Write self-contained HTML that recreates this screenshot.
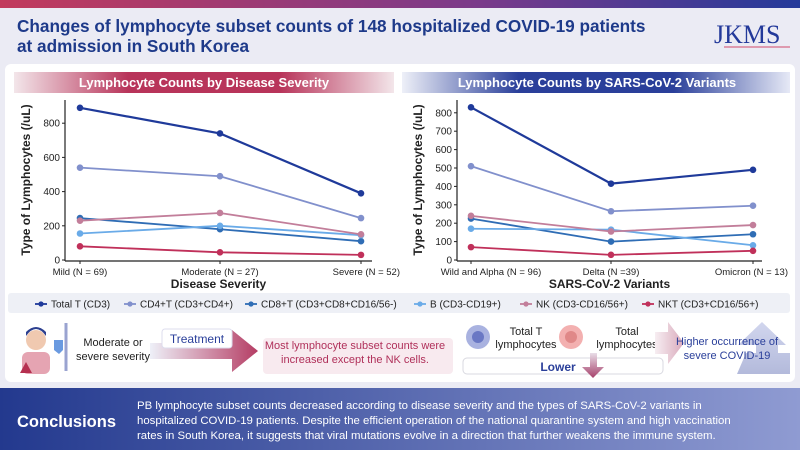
<!DOCTYPE html>
<html><head><meta charset="utf-8"><style>
body{margin:0;width:800px;height:450px;overflow:hidden;font-family:"Liberation Sans",sans-serif;}
svg{display:block}
text{font-family:"Liberation Sans",sans-serif}
</style></head><body>
<svg id="s" width="800" height="450" viewBox="0 0 800 450">
<defs>
<linearGradient id="top" x1="0" x2="1"><stop offset="0" stop-color="#c23a5c"/><stop offset="0.6" stop-color="#7a3a8a"/><stop offset="1" stop-color="#243a9a"/></linearGradient>
<linearGradient id="redbar" x1="0" x2="1"><stop offset="0" stop-color="#f3e6ea"/><stop offset="0.3" stop-color="#b8345a"/><stop offset="0.7" stop-color="#b8345a"/><stop offset="1" stop-color="#f3e6ea"/></linearGradient>
<linearGradient id="bluebar" x1="0" x2="1"><stop offset="0" stop-color="#eef0f8"/><stop offset="0.3" stop-color="#2a3f9a"/><stop offset="0.7" stop-color="#2a3f9a"/><stop offset="1" stop-color="#e6e9f6"/></linearGradient>
<linearGradient id="concl" x1="0" x2="1"><stop offset="0" stop-color="#23398e"/><stop offset="1" stop-color="#8f9bd2"/></linearGradient>
<linearGradient id="arrow1" x1="0" x2="1"><stop offset="0" stop-color="#eef0f8"/><stop offset="1" stop-color="#b53d64"/></linearGradient>
<linearGradient id="arrow2" x1="0" x2="1"><stop offset="0" stop-color="#f7eef2"/><stop offset="1" stop-color="#d9a9bb"/></linearGradient>
<linearGradient id="down" x1="0" x2="0" y1="0" y2="1"><stop offset="0" stop-color="#e8dde8"/><stop offset="1" stop-color="#a6406a"/></linearGradient>
<linearGradient id="pyr" x1="0" x2="0" y1="0" y2="1"><stop offset="0" stop-color="#c2c8e8"/><stop offset="1" stop-color="#9aa3cf"/></linearGradient>
</defs>
<rect width="800" height="450" fill="#ebebf4"/>
<rect width="800" height="8" fill="url(#top)"/>
<text x="17" y="32" font-size="17.2" font-weight="bold" fill="#1e3a8a">Changes of lymphocyte subset counts of 148 hospitalized COVID-19 patients</text>
<text x="17" y="52" font-size="17.2" font-weight="bold" fill="#1e3a8a">at admission in South Korea</text>
<text x="714" y="43" font-size="26" fill="#23399a" style="font-family:'Liberation Serif',serif">JKMS</text>
<line x1="724" y1="47" x2="790" y2="47" stroke="#d04a6a" stroke-width="1"/>

<rect x="5" y="64" width="790" height="318" rx="6" fill="#ffffff"/>
<rect x="14" y="72" width="380" height="21" fill="url(#redbar)"/>
<text x="204" y="87" font-size="13" font-weight="bold" fill="#fff" text-anchor="middle">Lymphocyte Counts by Disease Severity</text>
<rect x="402" y="72" width="388" height="21" fill="url(#bluebar)"/>
<text x="597" y="87" font-size="13" font-weight="bold" fill="#fff" text-anchor="middle">Lymphocyte Counts by SARS-CoV-2 Variants</text>
<g id="charts"></g>

<rect x="8" y="293" width="782" height="20" rx="3" fill="#eef0f6"/>
<g id="legend"></g>

<g>
<circle cx="36" cy="340" r="10" fill="#f0c9b0"/><path d="M26 336 q10 -14 20 0 l0 -4 q-10 -10 -20 0z" fill="#2c3f8f"/>
<rect x="22" y="352" width="28" height="22" rx="6" fill="#e5a4b2"/>
<polygon points="20,373 26,362 32,373" fill="#b53050"/>
<line x1="66" y1="323" x2="66" y2="371" stroke="#9aa3d0" stroke-width="3"/>
<path d="M54 340 h9 v10 l-4 4 -5 -4z" fill="#6a9ae0"/>
</g>
<polygon points="150,343 232,343 232,330 258,351 232,372 232,359 150,359" fill="url(#arrow1)"/>
<text x="113" y="346" font-size="11" fill="#222" text-anchor="middle">Moderate or</text>
<text x="113" y="360" font-size="11" fill="#222" text-anchor="middle">severe severity</text>
<rect x="162" y="329" width="70" height="19" rx="3" fill="#fff" stroke="#dde"/>
<text x="197" y="343" font-size="12" fill="#2a3f9a" text-anchor="middle">Treatment</text>
<rect x="263" y="338" width="190" height="36" rx="4" fill="#f8eaef"/>
<text x="355" y="349" font-size="11" fill="#b0305a" text-anchor="middle">Most lymphocyte subset counts were</text>
<text x="355" y="363" font-size="11" fill="#b0305a" text-anchor="middle">increased except the NK cells.</text>
<circle cx="478" cy="337" r="12" fill="#a9b2e0"/><circle cx="478" cy="337" r="6" fill="#6a78c4"/>
<text x="526" y="335" font-size="11" fill="#222" text-anchor="middle">Total T</text>
<text x="526" y="348" font-size="11" fill="#222" text-anchor="middle">lymphocytes</text>
<circle cx="571" cy="337" r="12" fill="#f3b0b0"/><circle cx="571" cy="337" r="6" fill="#e08888"/>
<text x="627" y="335" font-size="11" fill="#222" text-anchor="middle">Total</text>
<text x="627" y="348" font-size="11" fill="#222" text-anchor="middle">lymphocytes</text>
<polygon points="655,332 668,332 668,322 684,343 668,364 668,354 655,354" fill="url(#arrow2)"/>
<rect x="463" y="358" width="200" height="16" rx="4" fill="#fff" stroke="#d8d8e0"/>
<text x="558" y="371" font-size="12" font-weight="bold" fill="#2a3f9a" text-anchor="middle">Lower</text>
<polygon points="590,353 597,353 597,367 604,367 593,378 582,367 590,367" fill="url(#down)"/>
<polygon points="762,322 786,345 778,345 778,353 790,353 790,374 737,374 746,353 756,353 756,345 738,345" fill="url(#pyr)" opacity="0.75"/>
<text x="727" y="345" font-size="11" fill="#2a3f9a" text-anchor="middle">Higher occurrence of</text>
<text x="727" y="359" font-size="11" fill="#2a3f9a" text-anchor="middle">severe COVID-19</text>

<rect x="0" y="388" width="800" height="62" fill="url(#concl)"/>
<text x="17" y="427" font-size="16.5" font-weight="bold" fill="#fff">Conclusions</text>
<g font-size="11.4" fill="#fff">
<text x="137" y="409">PB lymphocyte subset counts decreased according to disease severity and the types of SARS-CoV-2 variants in</text>
<text x="137" y="424">hospitalized COVID-19 patients. Despite the efficient operation of the national quarantine system and high vaccination</text>
<text x="137" y="439">rates in South Korea, it suggests that viral mutations evolve in a direction that further weakens the immune system.</text>
</g>
</svg>
<script>
const seriesNames=["Total T (CD3)","CD4+T (CD3+CD4+)","CD8+T (CD3+CD8+CD16/56-)","B (CD3-CD19+)","NK (CD3-CD16/56+)","NKT (CD3+CD16/56+)"];
const severityCats=["Mild (N = 69)","Moderate (N = 27)","Severe (N = 52)"];
const variantCats=["Wild and Alpha (N = 96)","Delta (N =39)","Omicron (N = 13)"];
const sevTotalT=[890,740,390];
const sevCD4=[540,490,245];
const sevCD8=[245,180,110];
const sevB=[155,200,145];
const sevNK=[230,275,150];
const sevNKT=[80,45,30];
const varTotalT=[830,415,490];
const varCD4=[510,265,295];
const varCD8=[225,100,140];
const varB=[170,165,80];
const varNK=[240,155,190];
const varNKT=[70,28,50];
const sevTicks=[0,200,400,600,800];
const varTicks=[0,100,200,300,400,500,600,700,800];
const colors=["#1f3a9a","#8190cc","#2f6db5","#6aabe8","#c27e9a","#c0305a"];
const NS="http://www.w3.org/2000/svg";
const g=document.getElementById('charts');
function mk(tag,attrs,parent){const e=document.createElementNS(NS,tag);for(const k in attrs)e.setAttribute(k,attrs[k]);(parent||g).appendChild(e);return e;}
function chart(cfg){
  const yS=v=>cfg.y0-v*cfg.k;
  const xS=i=>cfg.xs[i];
  const grp=mk('g',{});
  
  
  const ya=mk('line',{x1:cfg.ax,y1:100,x2:cfg.ax,y2:cfg.y0+1,stroke:'#222','stroke-width':1.2},grp);
  
  
  const xa=mk('line',{x1:cfg.ax,y1:cfg.y0+1,x2:cfg.xend,y2:cfg.y0+1,stroke:'#222','stroke-width':1.2},grp);
  
  
  cfg.ticks.forEach(t=>{
    mk('line',{x1:cfg.ax-3,x2:cfg.ax,y1:yS(t),y2:yS(t),stroke:'#222'},grp);
    const tx=mk('text',{x:cfg.ax-5,y:yS(t)+3.5,'font-size':10,'text-anchor':'end',fill:'#222'},grp);
    tx.textContent=t;
    
    
  });
  cfg.cats.forEach((c,i)=>{
    mk('line',{x1:xS(i),x2:xS(i),y1:cfg.y0+1,y2:cfg.y0+4,stroke:'#222'},grp);
    const tx=mk('text',{x:xS(i),y:cfg.y0+15,'font-size':9.5,'text-anchor':i==2?'end':'middle',fill:'#222'},grp);
    if(i==2)tx.setAttribute('x',cfg.xend+(cfg.lastShift||0));
    if(i==0&&cfg.firstAnchor)tx.setAttribute('x',xS(0)+cfg.firstAnchor);
    tx.textContent=c;
    
    
  });
  const xt=mk('text',{x:(cfg.ax+cfg.xend)/2,y:cfg.y0+28,'font-size':12,'font-weight':'bold','text-anchor':'middle',fill:'#222'},grp);
  xt.textContent=cfg.xtitle;
  
  
  const cy=(100+cfg.y0)/2;
  const yt=mk('text',{x:cfg.ax-35,y:cy,'font-size':12,'font-weight':'bold','text-anchor':'middle',fill:'#222',transform:`rotate(-90 ${cfg.ax-35} ${cy})`},grp);
  yt.textContent='Type of Lymphocytes (/uL)';
  
  
  cfg.series.forEach((s,si)=>{
    const pl=mk('polyline',{points:s.map((v,i)=>xS(i)+','+yS(v)).join(' '),fill:'none',stroke:colors[si],'stroke-width':si==0?2.2:1.8},grp);
    
    
    s.forEach((v,i)=>{
      const c=mk('circle',{cx:xS(i),cy:yS(v),r:3.3,fill:colors[si]},grp);
      
      
    });
  });
}
chart({name:'severity-chart',y0:260,k:0.171,ax:65,xend:372,xs:[80,220,361],ticks:sevTicks,cats:severityCats,xtitle:'Disease Severity',series:[sevTotalT,sevCD4,sevCD8,sevB,sevNK,sevNKT],lastShift:28});
chart({name:'variant-chart',y0:260,k:0.184,ax:457,xend:762,xs:[471,611,753],ticks:varTicks,cats:variantCats,xtitle:'SARS-CoV-2 Variants',series:[varTotalT,varCD4,varCD8,varB,varNK,varNKT],lastShift:26,firstAnchor:20});
const lg=document.getElementById('legend');
const lx=[35,124,245,414,520,642];
seriesNames.forEach((n,i)=>{
  const it=mk('g',{},lg);
  
  
  mk('line',{x1:lx[i],x2:lx[i]+12,y1:304,y2:304,stroke:colors[i],'stroke-width':1.8},it);
  mk('circle',{cx:lx[i]+6,cy:304,r:2.6,fill:colors[i]},it);
  const t=mk('text',{x:lx[i]+16,y:307.5,'font-size':10,fill:'#222'},it);
  t.textContent=n;
});
</script>
</body></html>
